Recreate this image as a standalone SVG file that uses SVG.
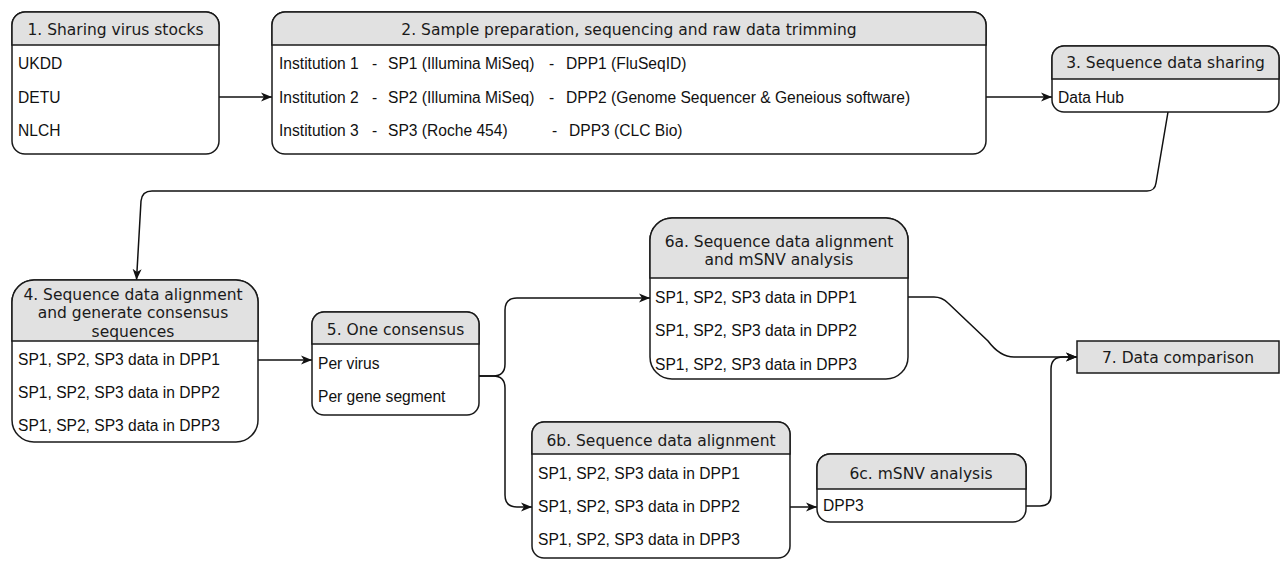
<svg xmlns="http://www.w3.org/2000/svg" width="1282" height="561" viewBox="0 0 1282 561">
<defs>
<style>
.box{fill:#fff;stroke:#1a1a1a;stroke-width:1.5}
.hd{fill:#e1e1e1;stroke:#1a1a1a;stroke-width:1.5}
.ht{font-family:"DejaVu Sans",Verdana,sans-serif;font-size:15.5px;fill:#1a1a1a;text-anchor:middle}
.it{font-family:"Liberation Sans",Arial,sans-serif;font-size:15.6px;fill:#111}
.cn{fill:none;stroke:#111;stroke-width:1.5;marker-end:url(#ah)}
</style>
<marker id="ah" markerUnits="userSpaceOnUse" markerWidth="12" markerHeight="10" refX="11" refY="5" orient="auto">
<path d="M0,0.5 L11,5 L0,9.5 L3,5 Z" fill="#111"/>
</marker>
</defs>
<rect width="1282" height="561" fill="#fff"/>

<g id="connectors">
<path class="cn" d="M219,97 L272,97"/>
<path class="cn" d="M986,97 L1052,97"/>
<path class="cn" d="M1168,112 L1156,183 Q1155,191 1147,191 L152,191 Q142,191 141,201 L136.5,280"/>
<path class="cn" d="M258,360 L312,360"/>
<path class="cn" d="M479,376 L493,376 Q505,376 505,364 L505,310 Q505,298 517,298 L650,298"/>
<path class="cn" d="M479,376 L493,376 Q505,376 505,388 L505,495 Q505,507 517,507 L532,507"/>
<path class="cn" d="M790,507 L817,507"/>
<path class="cn" d="M1026,506 L1040,506 Q1051,506 1051,495 L1051,369 Q1051,357 1063,357 L1077,357"/>
<path class="cn" d="M908,297 L934,297 Q942,297 948,303 L988,341 Q1000,357 1014,357 L1077,357"/>
</g>

<g id="node1">
<rect class="box" x="12" y="12" width="207" height="142" rx="13"/>
<path class="hd" d="M12,45 V25 A13,13 0 0 1 25,12 H206 A13,13 0 0 1 219,25 V45 Z"/>
<text class="ht" x="115.5" y="35">1. Sharing virus stocks</text>
<text class="it" x="18" y="69">UKDD</text>
<text class="it" x="18" y="102.5">DETU</text>
<text class="it" x="18" y="136">NLCH</text>
</g>

<g id="node2">
<rect class="box" x="272" y="12" width="714" height="142" rx="13"/>
<path class="hd" d="M272,45 V25 A13,13 0 0 1 285,12 H973 A13,13 0 0 1 986,25 V45 Z"/>
<text class="ht" x="629" y="35">2. Sample preparation, sequencing and raw data trimming</text>
<text class="it" y="69"><tspan x="279">Institution 1</tspan><tspan x="372">-</tspan><tspan x="388">SP1 (Illumina MiSeq)</tspan><tspan x="549">-</tspan><tspan x="566">DPP1 (FluSeqID)</tspan></text>
<text class="it" y="102.5"><tspan x="279">Institution 2</tspan><tspan x="372">-</tspan><tspan x="388">SP2 (Illumina MiSeq)</tspan><tspan x="549">-</tspan><tspan x="566">DPP2 (Genome Sequencer &amp; Geneious software)</tspan></text>
<text class="it" y="136"><tspan x="279">Institution 3</tspan><tspan x="372">-</tspan><tspan x="388">SP3 (Roche 454)</tspan><tspan x="552">-</tspan><tspan x="569">DPP3 (CLC Bio)</tspan></text>
</g>

<g id="node3">
<rect class="box" x="1052" y="46" width="227" height="66" rx="12"/>
<path class="hd" d="M1052,79 V58 A12,12 0 0 1 1064,46 H1267 A12,12 0 0 1 1279,58 V79 Z"/>
<text class="ht" x="1165.5" y="68">3. Sequence data sharing</text>
<text class="it" x="1058" y="102.5">Data Hub</text>
</g>

<g id="node4">
<rect class="box" x="12" y="280" width="246" height="162" rx="22"/>
<path class="hd" d="M12,341 V302 A22,22 0 0 1 34,280 H236 A22,22 0 0 1 258,302 V341 Z"/>
<text class="ht" x="133" y="299.5">4. Sequence data alignment</text>
<text class="ht" x="133" y="318">and generate consensus</text>
<text class="ht" x="133" y="336.5">sequences</text>
<text class="it" x="18" y="364.5">SP1, SP2, SP3 data in DPP1</text>
<text class="it" x="18" y="398">SP1, SP2, SP3 data in DPP2</text>
<text class="it" x="18" y="431">SP1, SP2, SP3 data in DPP3</text>
</g>

<g id="node5">
<rect class="box" x="312" y="312" width="167" height="103" rx="12"/>
<path class="hd" d="M312,344 V324 A12,12 0 0 1 324,312 H467 A12,12 0 0 1 479,324 V344 Z"/>
<text class="ht" x="395.5" y="335">5. One consensus</text>
<text class="it" x="318" y="368.5">Per virus</text>
<text class="it" x="318" y="401.5">Per gene segment</text>
</g>

<g id="node6a">
<rect class="box" x="650" y="218" width="258" height="161" rx="22"/>
<path class="hd" d="M650,278 V240 A22,22 0 0 1 672,218 H886 A22,22 0 0 1 908,240 V278 Z"/>
<text class="ht" x="779" y="246.5">6a. Sequence data alignment</text>
<text class="ht" x="779" y="264.5">and mSNV analysis</text>
<text class="it" x="655" y="302.5">SP1, SP2, SP3 data in DPP1</text>
<text class="it" x="655" y="336">SP1, SP2, SP3 data in DPP2</text>
<text class="it" x="655" y="369.5">SP1, SP2, SP3 data in DPP3</text>
</g>

<g id="node6b">
<rect class="box" x="532" y="422" width="258" height="136" rx="12"/>
<path class="hd" d="M532,454 V434 A12,12 0 0 1 544,422 H778 A12,12 0 0 1 790,434 V454 Z"/>
<text class="ht" x="661" y="446">6b. Sequence data alignment</text>
<text class="it" x="538" y="478.5">SP1, SP2, SP3 data in DPP1</text>
<text class="it" x="538" y="511.5">SP1, SP2, SP3 data in DPP2</text>
<text class="it" x="538" y="545">SP1, SP2, SP3 data in DPP3</text>
</g>

<g id="node6c">
<rect class="box" x="817" y="454" width="209" height="68" rx="13"/>
<path class="hd" d="M817,489 V467 A13,13 0 0 1 830,454 H1013 A13,13 0 0 1 1026,467 V489 Z"/>
<text class="ht" x="921" y="479">6c. mSNV analysis</text>
<text class="it" x="823" y="511">DPP3</text>
</g>

<g id="node7">
<rect class="hd" x="1077" y="341" width="202" height="32"/>
<text class="ht" x="1178" y="362.5">7. Data comparison</text>
</g>
</svg>
